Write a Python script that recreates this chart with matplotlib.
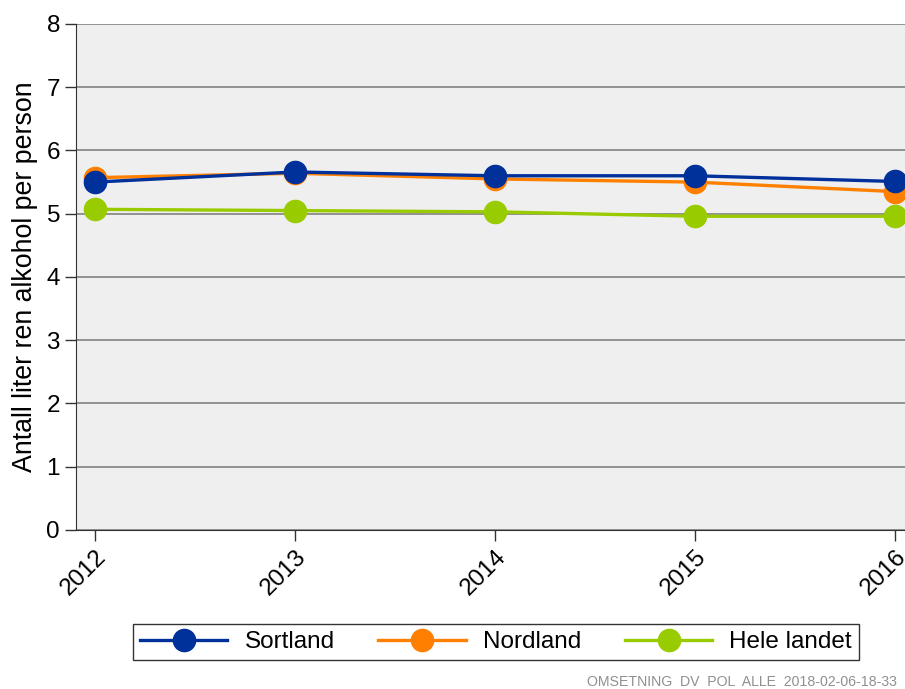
import matplotlib
matplotlib.use('Agg')
import matplotlib.pyplot as plt

plt.rcParams['font.family'] = ['Liberation Sans', 'DejaVu Sans']

years = [2012, 2013, 2014, 2015, 2016]
sortland = [5.50, 5.66, 5.60, 5.60, 5.51]
nordland = [5.57, 5.64, 5.55, 5.50, 5.35]
hele_landet = [5.07, 5.05, 5.03, 4.96, 4.96]

fig = plt.figure(figsize=(9.05, 6.89), dpi=100)
ax = fig.add_axes([0.084, 0.2308, 0.916, 0.7344])
ax.set_facecolor('#efefef')

# rekkefølge: landet nederst, Sortland øverst
ax.plot(years, hele_landet, color='#99cc00', lw=2.4, marker='o', ms=16, label='Hele landet', zorder=3, clip_on=False)
ax.plot(years, nordland, color='#ff8000', lw=2.4, marker='o', ms=16, label='Nordland', zorder=4, clip_on=False)
ax.plot(years, sortland, color='#00309a', lw=2.4, marker='o', ms=16, label='Sortland', zorder=5, clip_on=False)

ax.set_xlim(2011.905, 2016.05)
ax.set_ylim(0, 8)
ax.set_yticks(range(0, 9))
ax.set_xticks(years)
ax.set_xticklabels([str(y) for y in years], rotation=45, ha='right', rotation_mode='anchor')
ax.tick_params(axis='both', labelsize=17.5, length=8, width=1, color='#333333')
ax.grid(axis='y', color='#8a8a8a', lw=1.3)
ax.set_axisbelow(True)
for s in ['top', 'right']:
    ax.spines[s].set_visible(False)
ax.spines['left'].set_color('#333333')
ax.spines['bottom'].set_color('#333333')
ax.set_ylabel('Antall liter ren alkohol per person', fontsize=19.3)
ax.yaxis.set_label_coords(-0.0615, 0.5)
ax.yaxis.label.set_va('center')

h, l = ax.get_legend_handles_labels()
leg = fig.legend(h[::-1], l[::-1], loc='center', bbox_to_anchor=(0.548, 0.068), ncol=3,
                 fontsize=17.5, frameon=True, fancybox=False, edgecolor='black',
                 handlelength=3.6, columnspacing=1.8, borderpad=0.3, handletextpad=0.7)
leg.get_frame().set_linewidth(1.0)

fig.text(0.991, 0.0, 'OMSETNING  DV  POL  ALLE  2018-02-06-18-33', ha='right', va='bottom',
         fontsize=10.2, color='#909090')

fig.savefig('out.png', dpi=100)
